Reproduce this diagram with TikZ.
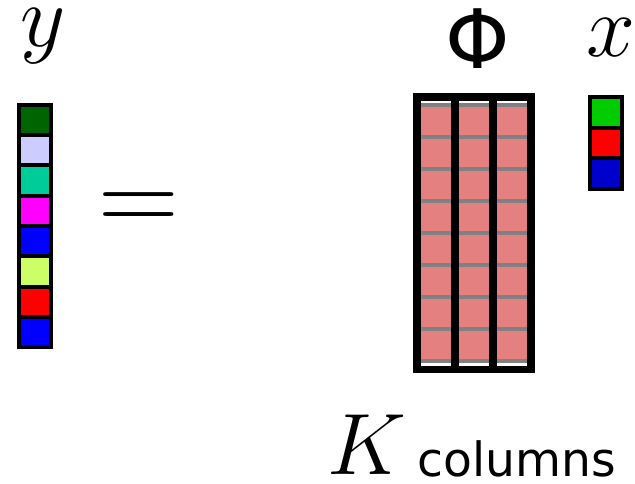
\documentclass[tikz,border=0pt]{standalone}
\usepackage{amsmath}
\usepackage{fontspec}
\newfontfamily\colfont{DejaVu Sans}
\usetikzlibrary{positioning}
\definecolor{ydkgreen}{HTML}{006400}
\definecolor{ylavender}{HTML}{CCCCFF}
\definecolor{yteal}{HTML}{00CC99}
\definecolor{ymagenta}{HTML}{FF00FF}
\definecolor{yblue}{HTML}{0000FF}
\definecolor{ylime}{HTML}{CCFF66}
\definecolor{yred}{HTML}{FF0000}
\definecolor{xgreen}{HTML}{00CC00}
\definecolor{xblue}{HTML}{0000CC}
\definecolor{phipink}{HTML}{E48080}
\definecolor{phigrid}{HTML}{808080}
\tikzset{
  cell/.style={draw=black,line width=2pt},
  phicol/.style={draw=black,line width=3.8pt},
  phirow/.style={draw=phigrid,line width=1.7pt},
  sym/.style={inner sep=0pt,anchor=base,scale=2.12,font=\fontsize{20.74}{24}\selectfont},
}
\begin{document}
\begin{tikzpicture}[x=0.5pt,y=-0.5pt]
  \useasboundingbox (0,0) rectangle (635,483);
  % vector y
  \foreach \c [count=\i from 0] in {ydkgreen,ylavender,yteal,ymagenta,yblue,ylime,yred,yblue} {
    \filldraw[cell,fill=\c] (19,104.7+30.3*\i) rectangle (51,104.7+30.3*\i+30.3);
  }
  % matrix Phi
  \fill[phipink] (417,105) rectangle (531,361);
  \foreach \j in {0,...,8} { \draw[phirow] (417,105+32*\j) -- (531,105+32*\j); }
  \foreach \k in {0,1,2} { \draw[phicol] (417+38*\k,97) rectangle (455+38*\k,369.5); }
  % vector x
  \foreach \c [count=\i from 0] in {xgreen,yred,xblue} {
    \filldraw[cell,fill=\c] (590,97+30.7*\i) rectangle (622,97+30.7*\i+30.7);
  }
  % labels
  \node[sym] (ylab) at (42.7,46) {$y$};
  \node[sym,scale=2.7/2.12] (eq) at (138.5,232) {$=$};
  \node[inner sep=0pt,anchor=base,font=\fontsize{41}{44}\selectfont\colfont] (philab) at (478,68.3) {Φ};
  \node[sym] (xlab) at (611,56.7) {$x$};
  \node[sym,scale=2.1/2.12] (klab) at (367,474) {$K$};
  \node[inner sep=0pt,font=\fontsize{23.6}{27}\selectfont\colfont,anchor=base west] (cols) at (417,476.7) {columns};
\end{tikzpicture}
\end{document}
